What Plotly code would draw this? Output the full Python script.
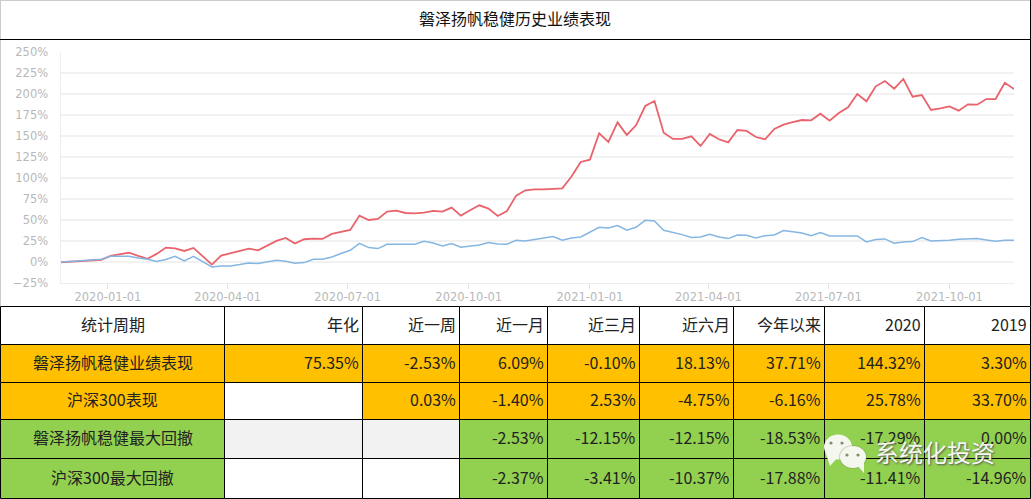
import pandas as pd
import plotly.graph_objects as go

W, H = 1031, 499

TITLE = "磐泽扬帆稳健历史业绩表现"
SERIES_NAMES = ["磐泽扬帆稳健", "沪深300"]

FIRST_DATES = ["2019-11-26", "2019-12-13"]
FIRST_FUND = [0.0, 1.2]
FIRST_INDEX = [0.0, 1.6]

fund_values = [2.8,7.5,9.5,11.5,7.5,4.0,9.9,17.4,16.6,13.4,17.0,6.7,-2.8,7.9,10.7,13.8,16.2,14.2,19.8,25.3,
               28.9,22.2,27.3,28.1,27.7,33.6,36.0,38.4,55.4,50.2,51.4,60.1,61.3,58.5,58.1,58.9,60.9,60.1,64.9,55.4,
               61.7,67.6,63.7,55.0,60.9,79.1,85.4,86.6,86.6,87.4,87.8,101.7,119.1,121.8,153.1,142.8,166.1,151.1,162.6,185.5,
               191.5,153.9,146.4,146.4,149.5,138.1,152.3,146.0,142.4,157.0,155.9,148.7,146.0,158.2,163.4,166.5,168.9,168.5,176.4,168.1,
               177.2,183.9,199.8,191.1,208.9,215.2,206.1,217.6,196.6,198.6,180.8,182.8,185.1,180.0,187.5,187.1,193.8,193.8,213.2,205.7]
index_values = [3.6,7.1,7.5,7.1,5.1,3.6,0.8,3.2,7.1,1.6,7.1,0.8,-5.5,-4.4,-4.4,-2.8,-0.8,-1.6,0.4,2.4,
                1.2,-1.2,-0.4,3.6,3.6,6.3,10.3,14.2,22.5,17.4,16.2,21.4,21.4,21.4,21.4,24.9,22.9,19.4,22.2,17.8,
                19.0,20.6,23.3,21.8,21.4,26.1,25.3,27.3,28.5,30.5,26.1,28.9,30.1,35.6,41.5,40.7,43.5,38.0,41.5,49.8,
                49.1,38.0,35.6,32.8,29.3,30.1,33.2,30.1,28.1,32.4,32.0,28.9,31.6,32.4,37.6,36.4,34.8,31.6,35.2,31.3,
                30.9,31.3,31.3,24.1,26.9,27.7,22.5,24.1,24.5,29.3,25.3,25.3,26.1,27.3,27.3,28.1,26.5,24.9,26.1,26.1]
assert len(fund_values) == len(index_values) == 100

weekly_dates = pd.date_range("2019-12-27", periods=len(fund_values), freq="7D").strftime("%Y-%m-%d").tolist()

x_tick_dates = ["2020-01-01","2020-04-01","2020-07-01","2020-10-01","2021-01-01","2021-04-01","2021-07-01","2021-10-01"]

table_header = ["统计周期","年化","近一周","近一月","近三月","近六月","今年以来","2020","2019"]
row_fund = ["磐泽扬帆稳健业绩表现","75.35%","-2.53%","6.09%","-0.10%","18.13%","37.71%","144.32%","3.30%"]
row_index = ["沪深300表现","","0.03%","-1.40%","2.53%","-4.75%","-6.16%","25.78%","33.70%"]
row_fund_dd = ["磐泽扬帆稳健最大回撤","","","-2.53%","-12.15%","-12.15%","-18.53%","-17.29%","0.00%"]
row_index_dd = ["沪深300最大回撤","","","-2.37%","-3.41%","-10.37%","-17.88%","-11.41%","-14.96%"]
table_rows = [table_header, row_fund, row_index, row_fund_dd, row_index_dd]

WHITE, ORANGE, GREEN, GREY = "#FFFFFF", "#FFC000", "#92D050", "#F2F2F2"
row_fills = [
    [WHITE]*9,
    [ORANGE]*9,
    [ORANGE, WHITE] + [ORANGE]*7,
    [GREEN, GREY, GREY] + [GREEN]*6,
    [GREEN, WHITE, WHITE] + [GREEN]*6,
]
col_edges = [0.5,224.5,362.5,459.5,547.5,639.5,733.5,824.5,924.5,1030.5]
row_edges = [306.5,344.5,382.5,419.5,458.5,498.5]

FONT = "Noto Sans CJK SC"

fig = go.Figure()
fig.add_trace(go.Scatter(x=FIRST_DATES + weekly_dates, y=FIRST_FUND + fund_values, name=SERIES_NAMES[0],
                         mode="lines", line=dict(color="#E9636C", width=1.8, shape="linear")))
fig.add_trace(go.Scatter(x=FIRST_DATES + weekly_dates, y=FIRST_INDEX + index_values, name=SERIES_NAMES[1],
                         mode="lines", line=dict(color="#85B6E2", width=1.5, shape="linear")))
# An empty trace keeps the page-sized helper axes alive; the table and frame are placed on them.
fig.add_trace(go.Scatter(x=[None], y=[None], xaxis="x2", yaxis="y2", mode="none", hoverinfo="skip"))

shapes = []
REF = dict(xref="x2", yref="y2", layer="above")
def rect(x0, y0, x1, y1, fill, line):
    shapes.append(dict(type="rect", x0=x0, x1=x1, y0=y0, y1=y1, fillcolor=fill, line=dict(color=line, width=1), **REF))
def seg(x0, y0, x1, y1, color="#000000"):
    shapes.append(dict(type="line", x0=x0, x1=x1, y0=y0, y1=y1, line=dict(color=color, width=1), **REF))
def oval(cx, cy, rx, ry, fill):
    shapes.append(dict(type="circle", x0=cx-rx, x1=cx+rx, y0=cy-ry, y1=cy+ry, fillcolor=fill, line=dict(width=0), **REF))
def tail(path, fill):
    shapes.append(dict(type="path", path=path, fillcolor=fill, line=dict(width=0), **REF))

# frame of the chart
seg(0, 0.5, W, 0.5, "#CCCCCC")
seg(0.5, 0, 0.5, 306, "#CCCCCC")
seg(0, 39.5, W, 39.5)
seg(1030.5, 0, 1030.5, 306)

TEXT_LIFT = 2
annotations = []
for r, row in enumerate(table_rows):
    for c, text in enumerate(row):
        rect(col_edges[c], row_edges[r], col_edges[c+1], row_edges[r+1], row_fills[r][c], "#000000")
        if not text:
            continue
        cy = (row_edges[r] + row_edges[r+1]) / 2 - TEXT_LIFT
        if c == 0:
            ax, anchor = (col_edges[0] + col_edges[1]) / 2, "center"
        else:
            ax, anchor = col_edges[c+1] - 1.5, "right"
        annotations.append(dict(text=text, xref="x2", yref="y2", x=ax, y=cy, xanchor=anchor, yanchor="middle",
                                showarrow=False, font=dict(family=FONT, size=16, color="#222222")))

# watermark
BUBBLE = "#F4F7EE"
tail("M 826 454 L 830 466 L 838 457 Z", BUBBLE)
oval(838, 447, 14, 12.5, BUBBLE)
oval(853, 457, 14, 12, "rgba(120,150,90,0.35)")
tail("M 857 465 L 864 473 L 864 460 Z", BUBBLE)
oval(853, 457, 13, 11, BUBBLE)
for cx, cy in [(831, 443), (842, 443), (847, 455), (858, 455)]:
    oval(cx, cy, 1.6, 1.6, "#7E8F6A")
annotations.append(dict(text="系统化投资", xref="x2", yref="y2", x=935, y=453 - TEXT_LIFT, xanchor="center", yanchor="middle",
                        showarrow=False, font=dict(family=FONT, size=24, color="#F6F6F0", shadow="1px 1px 2px #555555")))
# title
annotations.append(dict(text=TITLE, xref="x2", yref="y2", x=515, y=20 - TEXT_LIFT, xanchor="center", yanchor="middle",
                        showarrow=False, font=dict(family=FONT, size=16, color="#111111")))

TICK_FONT = dict(family="DejaVu Sans", size=11.5, color="#B8B8B8")
fig.update_layout(
    width=W, height=H, autosize=False,
    margin=dict(l=0, r=0, t=0, b=0, pad=0),
    paper_bgcolor="#FFFFFF", plot_bgcolor="rgba(0,0,0,0)",
    showlegend=False,
    xaxis=dict(domain=[60.5/W, 1014/W], type="date", range=[FIRST_DATES[0], weekly_dates[-1]], automargin=False,
               tickmode="array", tickvals=x_tick_dates, tickformat="%Y-%m-%d", ticklabelstandoff=-2,
               showgrid=False, zeroline=False, showline=True, linecolor="#EEEEEE", linewidth=1,
               ticks="outside", ticklen=5, tickcolor="#E3E3E3", tickwidth=1, tickfont=TICK_FONT),
    yaxis=dict(domain=[1-283.3/H, 1-51.7/H], range=[-25, 250], tickmode="linear", tick0=0, dtick=25, ticksuffix="%", automargin=False,
               showgrid=True, gridcolor="#F1F1F1", gridwidth=1.5, zeroline=False,
               showline=True, linecolor="#EEEEEE", linewidth=1, ticks="outside", ticklen=9, tickcolor="rgba(0,0,0,0)",
               tickfont=TICK_FONT),
    xaxis2=dict(domain=[0, 1], range=[0, W], anchor="y2", visible=False, fixedrange=True, automargin=False),
    yaxis2=dict(domain=[0, 1], range=[H, 0], anchor="x2", visible=False, fixedrange=True, automargin=False),
    shapes=shapes, annotations=annotations,
)

fig.write_html("out.html", config={"displayModeBar": False},
               post_script="document.body.style.margin='0';document.body.style.overflow='hidden';")
